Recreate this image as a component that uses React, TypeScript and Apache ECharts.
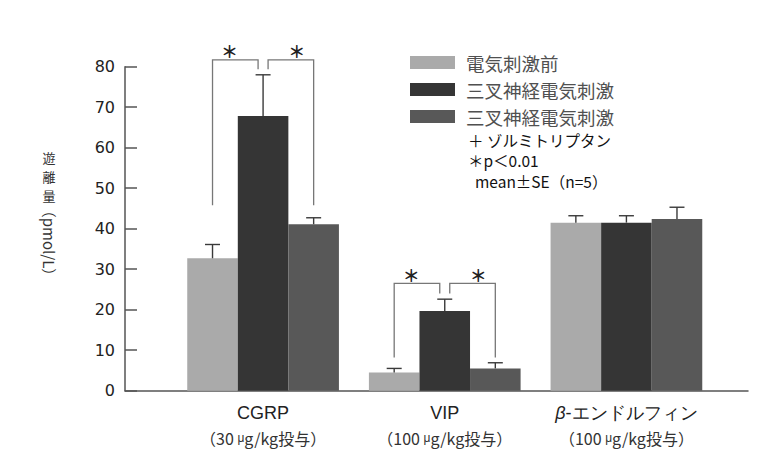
import React, { useEffect, useRef } from "react";
import * as echarts from "echarts";

const categories = ["CGRP", "VIP", "β-エンドルフィン"];
const doses = ["30", "100", "100"];
const seriesNames = ["電気刺激前", "三叉神経電気刺激", "三叉神経電気刺激＋ゾルミトリプタン"];
const legendLabels = ["電気刺激前", "三叉神経電気刺激", "三叉神経電気刺激"];
const colors = ["#aaaaaa", "#353535", "#585858"];
const beforeStim = [32.7, 4.5, 41.5];
const trigeminal = [67.8, 19.7, 41.5];
const zolmitriptan = [41.1, 5.5, 42.4];
const beforeSE = [3.4, 1.0, 1.7];
const trigeminalSE = [10.2, 2.9, 1.7];
const zolmitriptanSE = [1.6, 1.4, 2.9];
const yTicks = [0, 80, 10];
// brackets: category, side (-1 left, +1 right), outer end, top, inner end
const bracketCat = [0, 0, 1, 1];
const bracketSide = [-1, 1, -1, 1];
const bracketOuter = [45.8, 45.8, 8.2, 8.2];
const bracketTop = [81.7, 81.7, 26.5, 26.5];
const bracketInner = [79.4, 79.4, 24.0, 24.0];
const yTitleChars = ["遊", "離", "量"];
const notes = ["＋ ゾルミトリプタン", "＊p＜0.01", "mean±SE（n=5）"];

const CAT_GAP = 0.165;
const JP = '"Noto Sans CJK JP", sans-serif';

export default function App() {
  const ref = useRef<HTMLDivElement>(null);
  useEffect(() => {
    if (!ref.current) return;
    const chart = echarts.init(ref.current, null, { renderer: "svg" });
    const values = [beforeStim, trigeminal, zolmitriptan];
    const ses = [beforeSE, trigeminalSE, zolmitriptanSE];
    const errData: number[][] = [];
    values.forEach((arr, s) =>
      arr.forEach((v, c) => errData.push([c, v, v + ses[s][c], s]))
    );
    const brData = bracketCat.map((c, i) => [
      c,
      bracketOuter[i],
      bracketTop[i],
      bracketInner[i],
      bracketSide[i],
    ]);
    const noteX = [468, 468, 475];
    const noteY = [139.5, 159.5, 180.5];

    const option: any = {
      animation: false,
      backgroundColor: "#ffffff",
      grid: [
        { left: 172.25, width: 545, top: 66.7, height: 324 },
        { left: 125, width: 623, top: 66.7, height: 324 },
      ],
      xAxis: [
        {
          type: "category",
          gridIndex: 0,
          data: categories,
          axisLine: { show: false },
          axisTick: { show: false },
          axisLabel: {
            interval: 0,
            margin: 10,
            formatter: (v: string, i: number) => {
              const first =
                v.startsWith("β") ? "{ai|β}{a|" + v.slice(1) + "}" : "{a|" + v + "}";
              return first + "\n{b|（" + doses[i] + " }{m|μ}{b|g/kg投与）}";
            },
            rich: {
              a: { fontSize: 18, fontFamily: "Liberation Sans", color: "#222", lineHeight: 25 },
              ai: { fontSize: 18, fontFamily: "Liberation Sans", fontStyle: "italic", color: "#222", lineHeight: 25 },
              b: { fontSize: 16, fontFamily: JP, color: "#333", lineHeight: 24 },
              m: { fontSize: 12, fontFamily: "Liberation Sans", color: "#333", lineHeight: 24 },
            },
          },
        },
        {
          type: "value",
          gridIndex: 1,
          min: 0,
          max: 1,
          axisLine: { show: true, lineStyle: { color: "#555", width: 1.5 } },
          axisTick: { show: false },
          axisLabel: { show: false },
          splitLine: { show: false },
        },
      ],
      yAxis: [
        {
          type: "value",
          gridIndex: 0,
          min: yTicks[0],
          max: yTicks[1],
          interval: yTicks[2],
          show: false,
        },
        {
          type: "value",
          gridIndex: 1,
          min: yTicks[0],
          max: yTicks[1],
          interval: yTicks[2],
          axisLine: { show: true, lineStyle: { color: "#555", width: 1.5 } },
          axisTick: { show: true, inside: true, length: 12, lineStyle: { color: "#555", width: 1.5 } },
          axisLabel: { margin: 10, fontSize: 16, fontFamily: "DejaVu Sans", color: "#222" },
          splitLine: { show: false },
        },
      ],
      legend: {
        orient: "vertical",
        left: 405,
        top: 48,
        itemWidth: 45,
        itemHeight: 13,
        itemGap: 8,
        icon: "rect",
        data: seriesNames,
        formatter: (n: string) => legendLabels[seriesNames.indexOf(n)],
        textStyle: {
          fontSize: 18.5,
          lineHeight: 19,
          fontFamily: JP,
          color: "#505050",
          padding: [0, 0, 0, 6],
        },
      },
      graphic: [
        ...notes.map((t, i) => ({
          type: "text",
          x: noteX[i],
          y: noteY[i],
          style: { text: t, fontSize: 15.5, fontFamily: JP, fill: "#111", verticalAlign: "middle" },
        })),
        ...yTitleChars.map((ch, i) => ({
          type: "text",
          x: 49,
          y: 157 + i * 19,
          style: { text: ch, fontSize: 13, fontFamily: JP, fill: "#333", align: "center", verticalAlign: "middle" },
        })),
        {
          type: "text",
          x: 49,
          y: 243,
          rotation: -Math.PI / 2,
          style: { text: "（pmol/L）", fontSize: 15, fontFamily: JP, fill: "#333", align: "center", verticalAlign: "middle" },
        },
      ],
      series: [
        ...seriesNames.map((name, s) => ({
          type: "bar",
          name,
          xAxisIndex: 0,
          yAxisIndex: 0,
          data: values[s],
          barGap: "0%",
          barCategoryGap: CAT_GAP * 100 + "%",
          itemStyle: { color: colors[s] },
        })),
        {
          type: "custom",
          xAxisIndex: 0,
          yAxisIndex: 0,
          data: errData,
          encode: { x: 0, y: [1, 2] },
          silent: true,
          z: 5,
          renderItem: (params: any, api: any) => {
            const c = api.value(0);
            const mean = api.value(1);
            const up = api.value(2);
            const s = api.value(3);
            const band = api.size([1, 0])[0];
            const bw = (band * (1 - CAT_GAP)) / 3;
            const cx = api.coord([c, 0])[0] + (s - 1) * bw;
            const y0 = api.coord([c, mean])[1];
            const y1 = api.coord([c, up])[1];
            const st = { stroke: "#3a3a3a", lineWidth: 1.4 };
            return {
              type: "group",
              children: [
                { type: "line", shape: { x1: cx, y1: y0, x2: cx, y2: y1 }, style: st },
                { type: "line", shape: { x1: cx - 7.5, y1: y1, x2: cx + 7.5, y2: y1 }, style: st },
              ],
            };
          },
        },
        {
          type: "custom",
          xAxisIndex: 0,
          yAxisIndex: 0,
          data: brData,
          encode: { x: 0, y: [1, 2] },
          silent: true,
          z: 6,
          renderItem: (params: any, api: any) => {
            const c = api.value(0);
            const outer = api.value(1);
            const top = api.value(2);
            const inner = api.value(3);
            const side = api.value(4);
            const band = api.size([1, 0])[0];
            const bw = (band * (1 - CAT_GAP)) / 3;
            const cx = api.coord([c, 0])[0];
            const xo = cx + side * bw;
            const xi = cx + side * 5;
            const yo = api.coord([c, outer])[1];
            const yt = api.coord([c, top])[1];
            const yi = api.coord([c, inner])[1];
            return {
              type: "group",
              children: [
                {
                  type: "polyline",
                  shape: { points: [[xo, yo], [xo, yt], [xi, yt], [xi, yi]] },
                  style: { stroke: "#777", lineWidth: 1.3, fill: "none" },
                },
                {
                  type: "text",
                  x: xo - side * 17,
                  y: yt - 9,
                  style: {
                    text: "＊",
                    fontSize: 17,
                    fontWeight: "bold",
                    fontFamily: JP,
                    fill: "#222",
                    align: "center",
                    verticalAlign: "middle",
                  },
                },
              ],
            };
          },
        },
      ],
    };
    chart.setOption(option);
    return () => chart.dispose();
  }, []);
  return (
    <div
      ref={ref}
      style={{ position: "fixed", left: 0, top: 0, width: 768, height: 459 }}
    />
  );
}
